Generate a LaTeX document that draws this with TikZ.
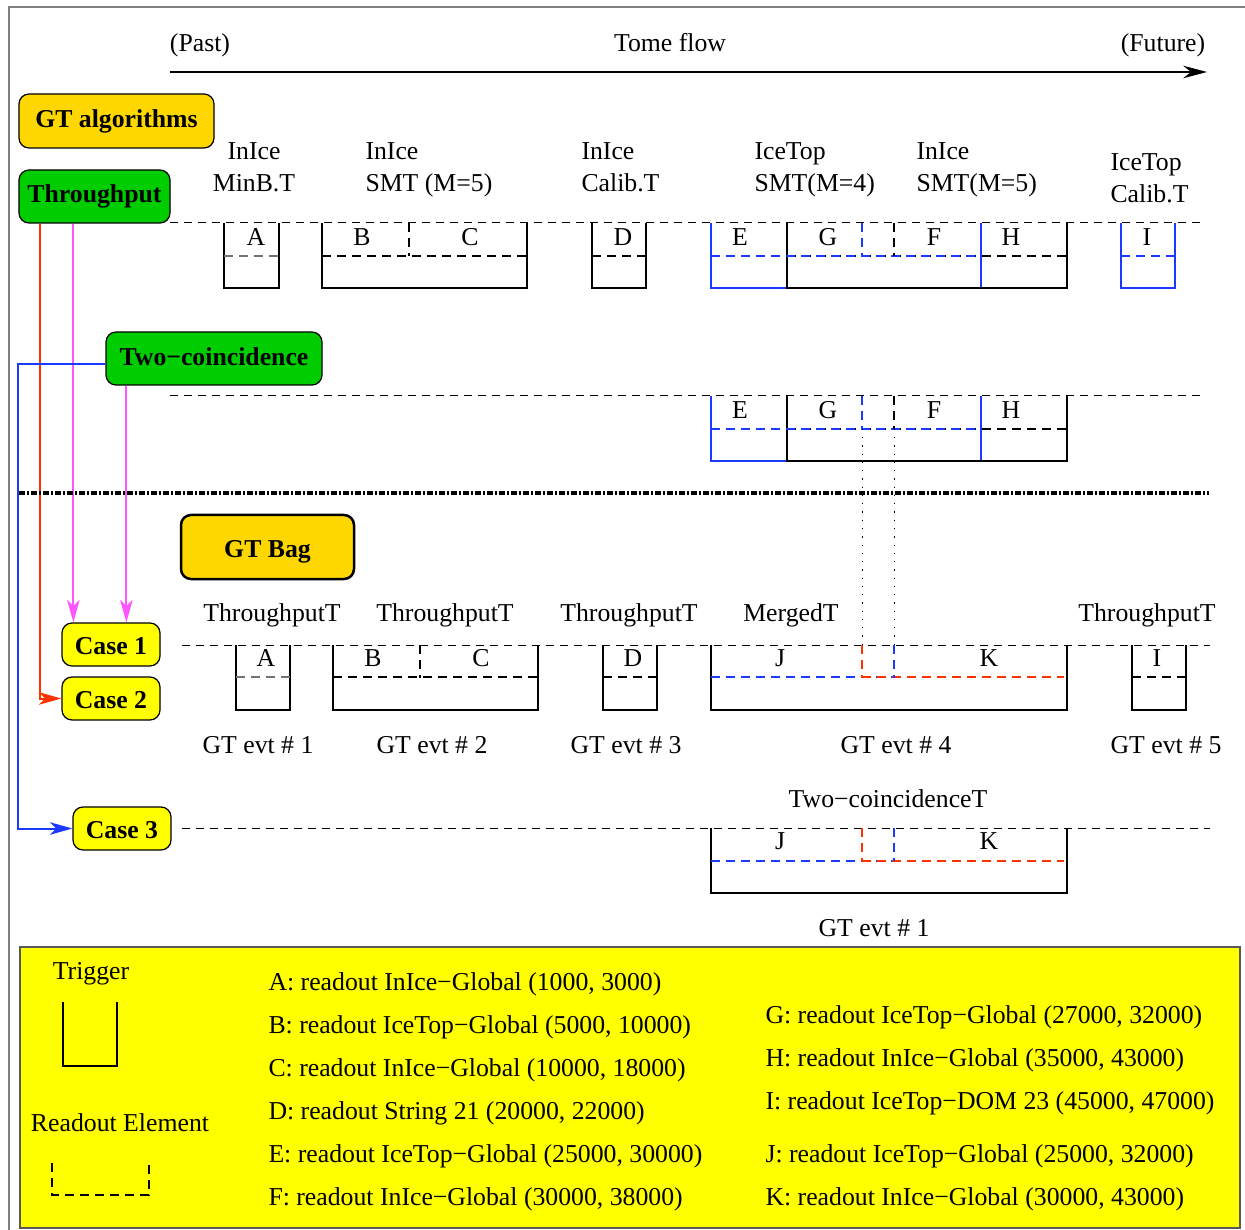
\documentclass[tikz,border=0pt]{standalone}
\usepackage{fontspec}
\setmainfont{Liberation Serif}
\usetikzlibrary{arrows.meta,calc}
\definecolor{gtgold}{HTML}{FFD700}
\definecolor{gtgreen}{HTML}{00CD00}
\definecolor{caseyel}{HTML}{FFFF00}
\definecolor{trred}{HTML}{FF3300}
\definecolor{trblue}{HTML}{1A3AFF}
\definecolor{trmag}{HTML}{FF55FF}
\newcommand{\lbl}{\fontsize{10.3}{12.8}\selectfont}
\tikzset{
  txt/.style={inner sep=0pt, font=\lbl},
  algobox/.style={draw, line width=0.5pt, rounded corners=4pt, fill=gtgold,
                  inner sep=0pt, font=\lbl\bfseries},
  trigbox/.style={draw, line width=0.5pt, rounded corners=4pt, fill=gtgreen,
                  inner sep=0pt, font=\lbl\bfseries},
  casebox/.style={draw, line width=0.5pt, rounded corners=4pt, fill=caseyel,
                  inner sep=0pt, font=\lbl\bfseries, minimum width=39.2pt, minimum height=17.2pt,
                  text height=8pt, text depth=0pt},
  timeline/.style={line width=0.4pt, dash pattern=on 3.2pt off 2.4pt},
  trigwall/.style={line width=0.8pt},
  readout/.style={line width=0.8pt, dash pattern=on 3.6pt off 2.4pt},
  dotline/.style={line width=0.4pt, dash pattern=on 0.5pt off 2.8pt},
  arr/.style={-{Stealth[length=9pt,width=5pt,inset=2.5pt]}, line width=0.8pt},
  timearr/.style={-{Stealth[length=9.5pt,width=5pt]}, line width=0.6pt}}
% trigger window, readout line and readout split (colour, x1, x2, top)
\newcommand{\trigU}[4][black]{\draw[trigwall,draw=#1] (#2,#4) -- ++(0,65) -| (#3,#4);}
\newcommand{\readL}[4][black]{\draw[readout,draw=#1] (#2,#4+33) -- (#3,#4+33);}
\newcommand{\splitL}[3][black]{\draw[readout,draw=#1] (#2,#3) -- (#2,#3+33);}
\begin{document}
\begin{tikzpicture}[x=0.4pt, y=-0.4pt]
    \useasboundingbox (0,0) rectangle (1245,1230);
    \draw[gray, line width=0.6pt] (9,1230) -- (9,7) -- (1245,7);
    % time axis
    \node[txt] (past) at (200,45) {(Past)};
    \node[txt] (flow) at (670,43) {Tome flow};
    \node[txt] (future) at (1163,45) {(Future)};
    \coordinate (tstart) at (170,72);
    \coordinate (tend) at (1207,72);
    \draw[timearr] (tstart) -- (tend);
    % algorithms and cases
    \node[algobox, minimum width=78pt, minimum height=21.6pt] (gtalgo) at (116.5,121) {GT algorithms};
    \node[trigbox, minimum width=60.4pt, minimum height=21.2pt] (thru) at (94.5,196.5) {Throughput};
    \node[trigbox, minimum width=86.4pt, minimum height=21.2pt, text depth=1.5pt] (twoco) at (214,358.5) {Two−coincidence};
    \node[algobox, line width=1pt, minimum width=69.2pt, minimum height=25.6pt,
          text height=8.4pt, text depth=0pt] (gtbag) at (267.5,547) {GT Bag};
    \node[casebox] (case1) at (111,644.5) {Case 1};
    \node[casebox] (case2) at (111,698.5) {Case 2};
    \node[casebox] (case3) at (122,828.5) {Case 3};
    \coordinate (m1) at ([xshift=22pt]thru.south west);
    \coordinate (r1) at ([xshift=8.8pt]thru.south west);
    \coordinate (m2) at ([xshift=8.4pt]twoco.south west);
    \coordinate (b1) at ([yshift=-2.4pt]twoco.west);
    \draw[arr, trred] (r1) |- (case2.west);
    \draw[arr, trmag] (m1) -- (m1 |- case1.north);
    \draw[arr, trmag] (m2) -- (m2 |- case1.north);
    \draw[arr, trblue] (b1) -- ++(-87,0) |- (case3.west);
    % separator
    \draw[line width=1.6pt, dash pattern=on 2.4pt off 0.8pt on 0.8pt off 0.8pt] (19,493) -- (1209,493);
    % time lines
    \draw[timeline] (170,223) -- (1205,223);
    \draw[timeline] (170,396) -- (1205,396);
    \draw[timeline] (182,645) -- (1210,645);
    \draw[timeline] (182,828) -- (1210,828);
    % throughput triggers
    \node[txt, align=center] (tminb) at (254,167) {InIce\\MinB.T};
    \node[txt, align=left, anchor=west] (tsmt5) at (365,170) {InIce\\SMT (M=5)};
    \node[txt, align=left, anchor=west] (tcal) at (581,167) {InIce\\Calib.T};
    \node[txt, align=left, anchor=west] (tsmt4) at (754,170) {IceTop\\SMT(M=4)};
    \node[txt, align=left, anchor=west] (tsmt5b) at (916,170) {InIce\\SMT(M=5)};
    \node[txt, align=left, anchor=west] (tcalb) at (1110,178) {IceTop\\Calib.T};
    \trigU{224}{279}{223}
    \draw[readout, draw=black!55, line width=0.6pt] (224,256) -- (279,256);
    \trigU{322}{527}{223}
    \readL{322}{527}{223}
    \splitL{409}{223}
    \trigU{592}{646}{223}
    \readL{592}{646}{223}
    \trigU[trblue]{711}{981}{223}
    \trigU{787}{1067}{223}
    \readL{787}{1067}{223}
    \readL[trblue]{711}{981}{223}
    \splitL[trblue]{862}{223}
    \splitL{894}{223}
    \trigU[trblue]{1121}{1175}{223}
    \readL[trblue]{1121}{1175}{223}
    \node[txt] (a1) at (256,237) {A};
    \node[txt] (b1l) at (362,237) {B};
    \node[txt] (c1) at (470,237) {C};
    \node[txt] (d1) at (623,237) {D};
    \node[txt] (e1) at (740,237) {E};
    \node[txt] (g1) at (828,237) {G};
    \node[txt] (f1) at (934,237) {F};
    \node[txt] (h1) at (1011,237) {H};
    \node[txt] (i1) at (1147,237) {I};
    % two-coincidence triggers
    \trigU[trblue]{711}{981}{396}
    \trigU{787}{1067}{396}
    \readL{787}{1067}{396}
    \readL[trblue]{711}{981}{396}
    \splitL[trblue]{862}{396}
    \splitL{894}{396}
    \node[txt] (e2) at (740,410) {E};
    \node[txt] (g2) at (828,410) {G};
    \node[txt] (f2) at (934,410) {F};
    \node[txt] (h2) at (1011,410) {H};
    \draw[dotline] (862,429) -- (862,645);
    \draw[dotline] (894,429) -- (894,645);
    % GT bag, cases 1 and 2
    \node[txt] (bag1) at (272,615) {ThroughputT};
    \node[txt] (bag2) at (445,615) {ThroughputT};
    \node[txt] (bag3) at (629,615) {ThroughputT};
    \node[txt] (bag4) at (791,615) {MergedT};
    \node[txt] (bag5) at (1147,615) {ThroughputT};
    \trigU{236}{290}{645}
    \draw[readout, draw=black!55, line width=0.6pt] (236,677) -- (290,677);
    \trigU{333}{538}{645}
    \readL{333}{538}{644}
    \splitL{420}{645}
    \trigU{603}{657}{645}
    \readL{603}{657}{644}
    \trigU{711}{1067}{645}
    \readL[trblue]{711}{894}{644}
    \readL[trred]{862}{1064}{644}
    \splitL[trred]{862}{645}
    \splitL[trblue]{894}{645}
    \trigU{1132}{1186}{645}
    \readL{1132}{1186}{644}
    \node[txt] (a3) at (266,658) {A};
    \node[txt] (b3) at (373,658) {B};
    \node[txt] (c3) at (481,658) {C};
    \node[txt] (d3) at (633,658) {D};
    \node[txt] (j3) at (780,658) {J};
    \node[txt] (k3) at (989,658) {K};
    \node[txt] (i3) at (1157,658) {I};
    \node[txt] (evt1) at (258,745) {GT evt \# 1};
    \node[txt] (evt2) at (432,745) {GT evt \# 2};
    \node[txt] (evt3) at (626,745) {GT evt \# 3};
    \node[txt] (evt4) at (896,745) {GT evt \# 4};
    \node[txt] (evt5) at (1166,745) {GT evt \# 5};
    % case 3
    \node[txt] (twocot) at (888,799) {Two−coincidenceT};
    \trigU{711}{1067}{828}
    \readL[trblue]{711}{894}{828}
    \readL[trred]{862}{1064}{828}
    \splitL[trred]{862}{828}
    \splitL[trblue]{894}{828}
    \node[txt] (j4) at (780,841) {J};
    \node[txt] (k4) at (989,841) {K};
    \node[txt] (evt6) at (874,928) {GT evt \# 1};
    % legend
    \draw[gray!70!black, fill=caseyel, line width=0.6pt] (20,947) rectangle (1240,1228);
    \node[txt] (ltrig) at (91,974) {Trigger};
    \draw[trigwall] (63,1002) -- (63,1066) -- (117,1066) -- (117,1002);
    \node[txt] (lread) at (120,1123) {Readout Element};
    \draw[readout] (52,1163) -- (52,1195) -- (149,1195) -- (149,1163);
    \node[txt, anchor=west] (legA) at (268,984) {A: readout InIce−Global (1000, 3000)};
    \node[txt, anchor=west] (legB) at (268,1027) {B: readout IceTop−Global (5000, 10000)};
    \node[txt, anchor=west] (legC) at (268,1070) {C: readout InIce−Global (10000, 18000)};
    \node[txt, anchor=west] (legD) at (268,1113) {D: readout String 21 (20000, 22000)};
    \node[txt, anchor=west] (legE) at (268,1156) {E: readout IceTop−Global (25000, 30000)};
    \node[txt, anchor=west] (legF) at (268,1199) {F: readout InIce−Global (30000, 38000)};
    \node[txt, anchor=west] (legG) at (765,1017) {G: readout IceTop−Global (27000, 32000)};
    \node[txt, anchor=west] (legH) at (765,1060) {H: readout InIce−Global (35000, 43000)};
    \node[txt, anchor=west] (legI) at (765,1103) {I: readout IceTop−DOM 23 (45000, 47000)};
    \node[txt, anchor=west] (legJ) at (765,1156) {J: readout IceTop−Global (25000, 32000)};
    \node[txt, anchor=west] (legK) at (765,1199) {K: readout InIce−Global (30000, 43000)};
\end{tikzpicture}
\end{document}
